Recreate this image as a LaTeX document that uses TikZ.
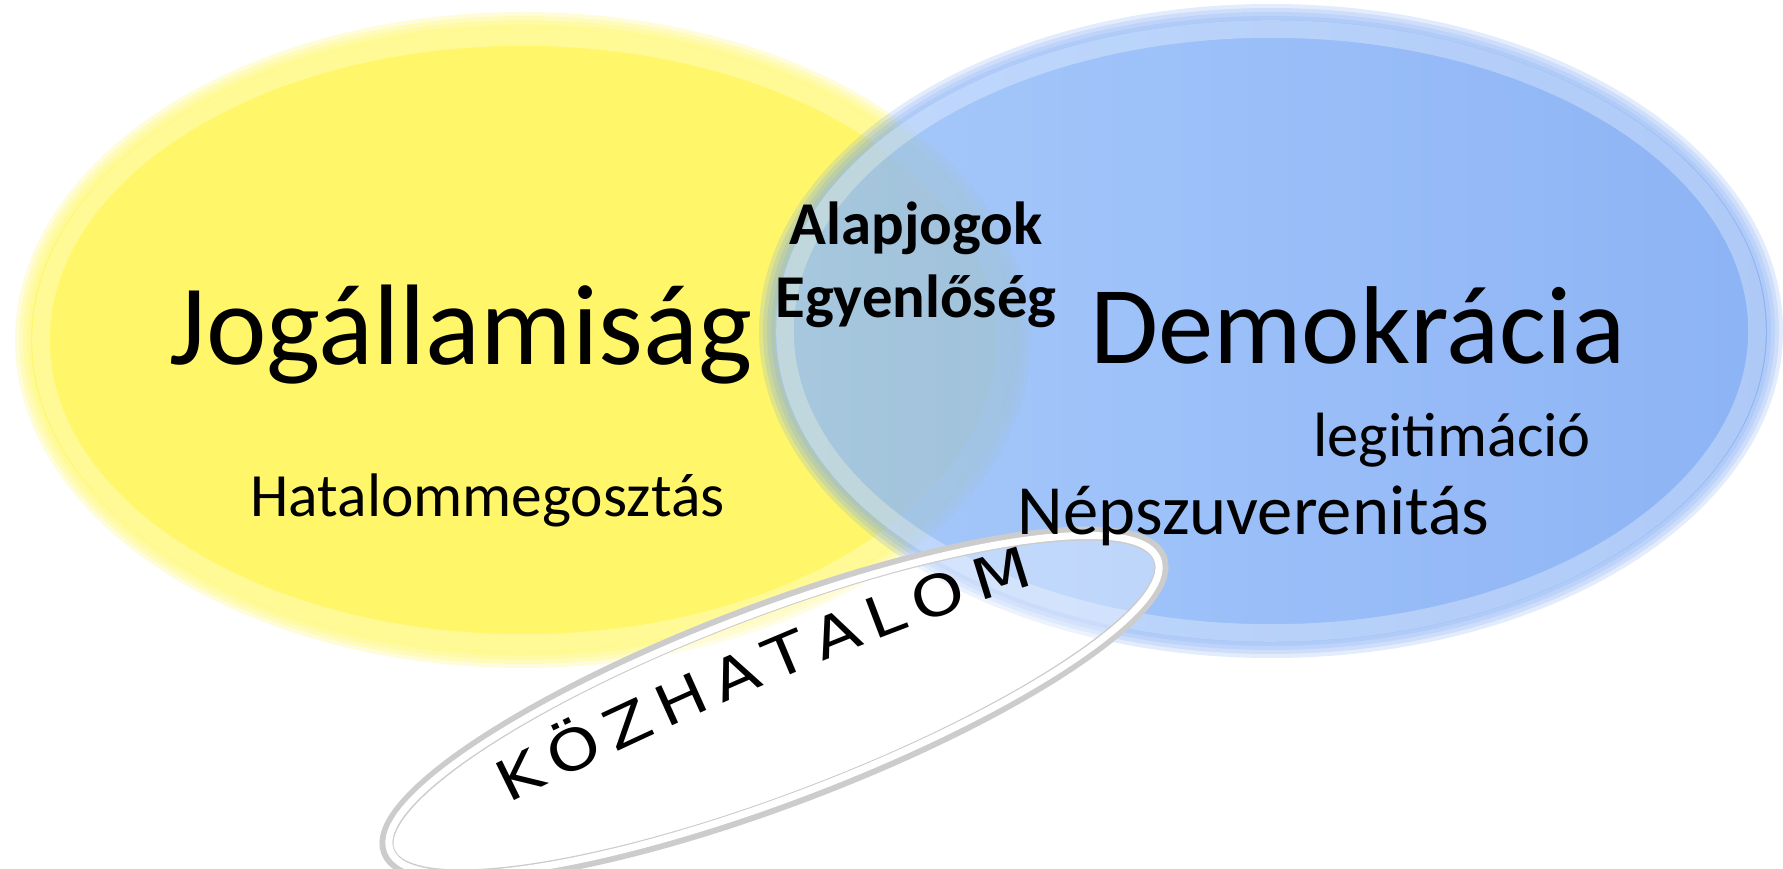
\documentclass[tikz,border=0pt]{standalone}
\usepackage{fontspec}
\setmainfont{Carlito}
\newfontfamily\ringfont[FakeStretch=1.2]{DejaVu Sans}
\usepackage{tikz}
\usetikzlibrary{decorations.text}

\definecolor{jogyellow}{RGB}{255,247,105}
\definecolor{demoblueL}{RGB}{145,188,250}
\definecolor{demoblueR}{RGB}{112,160,242}

\begin{document}
\begin{tikzpicture}[
    big/.style={anchor=base,font=\fontsize{32.6}{36}\selectfont},
    mid/.style={anchor=base,font=\fontsize{17.3}{20}\selectfont\bfseries},
    small/.style={anchor=base},
  ]
  \useasboundingbox (0,0) rectangle (17.83,8.69);

  % Jogallamisag
  \foreach \rx/\ry in {5.08/3.28,5.04/3.24,5.0/3.2,4.96/3.16}
    \fill[jogyellow,opacity=0.25] (5.23,5.29) ellipse (\rx cm and \ry cm);
  \fill[jogyellow] (5.23,5.29) ellipse (4.92 and 3.12);
  \draw[white,opacity=0.3,line width=5pt] (5.23,5.29) ellipse (4.82 and 3.03);

  % Demokracia
  \begin{scope}[transparency group,opacity=0.8]
    \foreach \rx/\ry in {5.12/3.27,5.08/3.23,5.04/3.19,5.0/3.15}
      \fill[demoblueR,opacity=0.25] (12.71,5.38) ellipse (\rx cm and \ry cm);
    \shade[left color=demoblueL,right color=demoblueR] (12.71,5.38) ellipse (4.96 and 3.11);
    \draw[white,opacity=0.3,line width=5pt] (12.71,5.38) ellipse (4.86 and 3.02);
  \end{scope}

  % kozhatalom gyuru
  \begin{scope}[shift={(7.74,1.64)},rotate=20.8]
    \fill[white,opacity=0.35] (0,0) ellipse (4.13 and 0.95);
    \draw[black!20,line width=4pt] (0,0) ellipse (4.13 and 0.95);
    \draw[white,line width=2pt] (0,0) ellipse (4.105 and 0.925);
  \end{scope}

  \coordinate (ks) at (5.09,0.65);
  \coordinate (ke) at (10.35,2.84);
  \path[decorate,decoration={text along path,text align=fit to path,
      text={|\ringfont\fontsize{16}{16}\selectfont|KÖZHATALOM}}]
    (ks) .. controls (6.6,1.40) and (8.8,2.40) .. (ke);

  \node[big] (jog) at (4.61,5.04) {Jogállamiság};
  \node[big,font=\fontsize{31.5}{36}\selectfont] (demo) at (13.575,5.05) {Demokrácia};
  \node[mid] (alap) at (9.16,6.24) {Alapjogok};
  \node[mid] (egy) at (9.16,5.51) {Egyenlőség};
  \node[small,font=\fontsize{17.5}{20}\selectfont] (hat) at (4.875,3.52) {Hatalommegosztás};
  \node[small,font=\fontsize{17.8}{20}\selectfont] (leg) at (14.52,4.12) {legitimáció};
  \node[small,font=\fontsize{20.1}{22}\selectfont] (nep) at (12.535,3.34) {Népszuverenitás};
\end{tikzpicture}
\end{document}
